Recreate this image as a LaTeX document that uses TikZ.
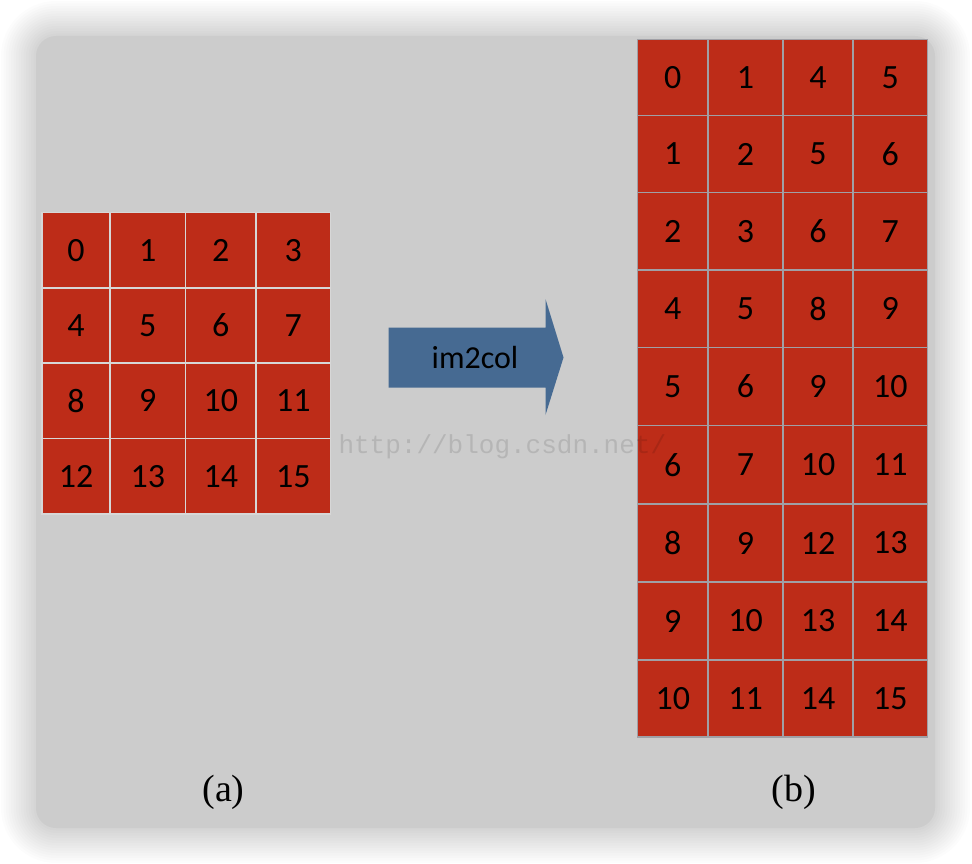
\documentclass[tikz,border=0pt]{standalone}
\usepackage{fontspec}
\setmainfont{Carlito}
\newfontfamily\capfont{Liberation Serif}
\newfontfamily\wmfont{Liberation Mono}
\definecolor{cellred}{RGB}{189,44,24}
\definecolor{panelgray}{RGB}{204,204,204}
\definecolor{arrowblue}{RGB}{70,106,146}
\definecolor{lgrid}{RGB}{215,215,215}
\definecolor{rgrid}{RGB}{160,160,166}
\begin{document}
\begin{tikzpicture}[x=1pt,y=-1pt,
  cell/.style={fill=cellred, draw=#1, line width=1.4pt, inner sep=0pt,
    font=\fontsize{34}{34}\selectfont, text=black},
  caption/.style={font=\capfont\fontsize{38}{38}\selectfont, text=black},
  watermark/.style={font=\wmfont\fontsize{26}{26}\selectfont, text=black, text opacity=0.11},
  arrowlabel/.style={font=\fontsize{32}{32}\selectfont, text=black}]
\useasboundingbox (0,0) rectangle (972,864);
% soft shadow
\foreach \i in {1,...,14}{
  \fill[black, opacity=0.012, rounded corners=20+2.5*\i]
    (36-2.5*\i,36-2.5*\i) rectangle (935+2.5*\i,828+2.5*\i);
}
% panel
\fill[panelgray, rounded corners=20] (36,36) rectangle (935,828);
% left grid (a)
\foreach \r in {0,...,3}{
  \foreach \c in {0,...,3}{
    \pgfmathsetmacro\xa{{42,110,185.5,256,330.5}[\c]}
    \pgfmathsetmacro\xb{{42,110,185.5,256,330.5}[\c+1]}
    \pgfmathsetmacro\ya{{212.5,288,363,438.5,514}[\r]}
    \pgfmathsetmacro\yb{{212.5,288,363,438.5,514}[\r+1]}
    \pgfmathtruncatemacro\n{4*\r+\c}
    \node[cell=lgrid, minimum width={(\xb-\xa)*1pt}, minimum height={(\yb-\ya)*1pt}]
      (a-\r-\c) at ({(\xa+\xb)/2},{(\ya+\yb)/2}) {\n};
  }
}
% right grid (b)
\foreach \r in {0,...,8}{
  \foreach \c in {0,...,3}{
    \pgfmathsetmacro\xa{{637.5,708,783,853,927.5}[\c]}
    \pgfmathsetmacro\xb{{637.5,708,783,853,927.5}[\c+1]}
    \pgfmathsetmacro\ya{{39.5,115.5,192.5,270,347.5,425.5,504,582,660,737}[\r]}
    \pgfmathsetmacro\yb{{39.5,115.5,192.5,270,347.5,425.5,504,582,660,737}[\r+1]}
    \pgfmathtruncatemacro\n{4*int(\r/3)+mod(\r,3)+{0,1,4,5}[\c]}
    \node[cell=rgrid, minimum width={(\xb-\xa)*1pt}, minimum height={(\yb-\ya)*1pt}]
      (b-\r-\c) at ({(\xa+\xb)/2},{(\ya+\yb)/2}) {\n};
  }
}
% block arrow
\fill[arrowblue] (388.5,327.5) -- (545.5,327.5) -- (545.5,299) -- (563.5,357.5)
  -- (545.5,415) -- (545.5,387.5) -- (388.5,387.5) -- cycle;
\node[arrowlabel] (im2col) at (475,357.5) {im2col};
% watermark
\node[watermark, anchor=west] (wm) at (335,447) {http://blog.csdn.net/};
% captions
\node[caption] (capa) at (223.5,792) {(a)};
\node[caption] (capb) at (793.5,792) {(b)};
\end{tikzpicture}
\end{document}
